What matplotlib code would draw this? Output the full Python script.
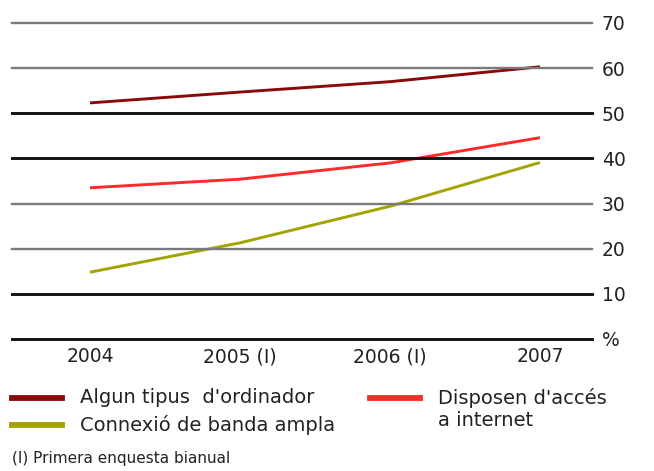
#!/usr/bin/env python3
import matplotlib as mpl
mpl.use('Agg')
import matplotlib.pyplot as plt
from matplotlib.lines import Line2D

years = ['2004', '2005 (I)', '2006 (I)', '2007']
ordinador = [52.3, 54.7, 57.0, 60.3]
internet = [33.5, 35.4, 39.0, 44.6]
banda_ampla = [14.8, 21.3, 29.4, 39.1]

series_labels = ["Algun tipus  d'ordinador", "Connexió de banda ampla", "Disposen d'accés\na internet"]
series_colors = ['#8a0a0a', '#ff2a2a', '#a3a300']

grid_values = [0, 10, 20, 30, 40, 50, 60, 70]
grid_tick_labels = ['%', '10', '20', '30', '40', '50', '60', '70']
dark_grid = [0, 10, 40, 50]

plt.rcParams['font.family'] = ['DejaVu Sans']

W, H = 654, 471
fig = plt.figure(figsize=(W / 100, H / 100), dpi=100)
ax = fig.add_axes([12 / W, 1 - 339 / H, 580 / W, 316 / H])

x = list(range(len(years)))
ax.set_xlim(-78 / 150, 3 + 52 / 150)
ax.set_ylim(0, 70)

for v in grid_values:
    if v in dark_grid:
        ax.axhline(v, color='#111111', lw=2.1, zorder=3, clip_on=False)
    else:
        ax.axhline(v, color='#7a7a7a', lw=1.7, zorder=3, clip_on=False)

ax.plot(x, ordinador, color=series_colors[0], lw=2.1, zorder=2, solid_capstyle='butt')
ax.plot(x, internet, color=series_colors[1], lw=2.1, zorder=2, solid_capstyle='butt')
ax.plot(x, banda_ampla, color=series_colors[2], lw=2.1, zorder=2, solid_capstyle='butt')

for s in ax.spines.values():
    s.set_visible(False)
ax.yaxis.tick_right()
ax.set_yticks(grid_values)
ax.set_yticklabels(grid_tick_labels)
ax.tick_params(axis='y', length=0, pad=7, labelsize=13.5, labelcolor='#222222')
ax.set_xticks(x)
ax.set_xticklabels(years)
ax.tick_params(axis='x', length=0, pad=6, labelsize=13.5, labelcolor='#222222')

# legend drawn by hand to keep the handle on the first text line
def legend_entry(px, py, color, text):
    fig.add_artist(Line2D([px / W, (px + 50) / W], [1 - py / H, 1 - py / H],
                          color=color, lw=4.2, transform=fig.transFigure))
    fig.text((px + 68) / W, 1 - (py - 10) / H, text, fontsize=14, color='#222222',
             va='top', ha='left', linespacing=1.2,
             transform=fig.transFigure)

legend_entry(12, 398, series_colors[0], series_labels[0])
legend_entry(12, 425, series_colors[2], series_labels[1])
legend_entry(370, 398, series_colors[1], series_labels[2])

fig.text(12 / W, 1 - 458 / H, '(I) Primera enquesta bianual', fontsize=11,
         color='#222222', va='center', ha='left')

plt.savefig('out.png', dpi=100)
